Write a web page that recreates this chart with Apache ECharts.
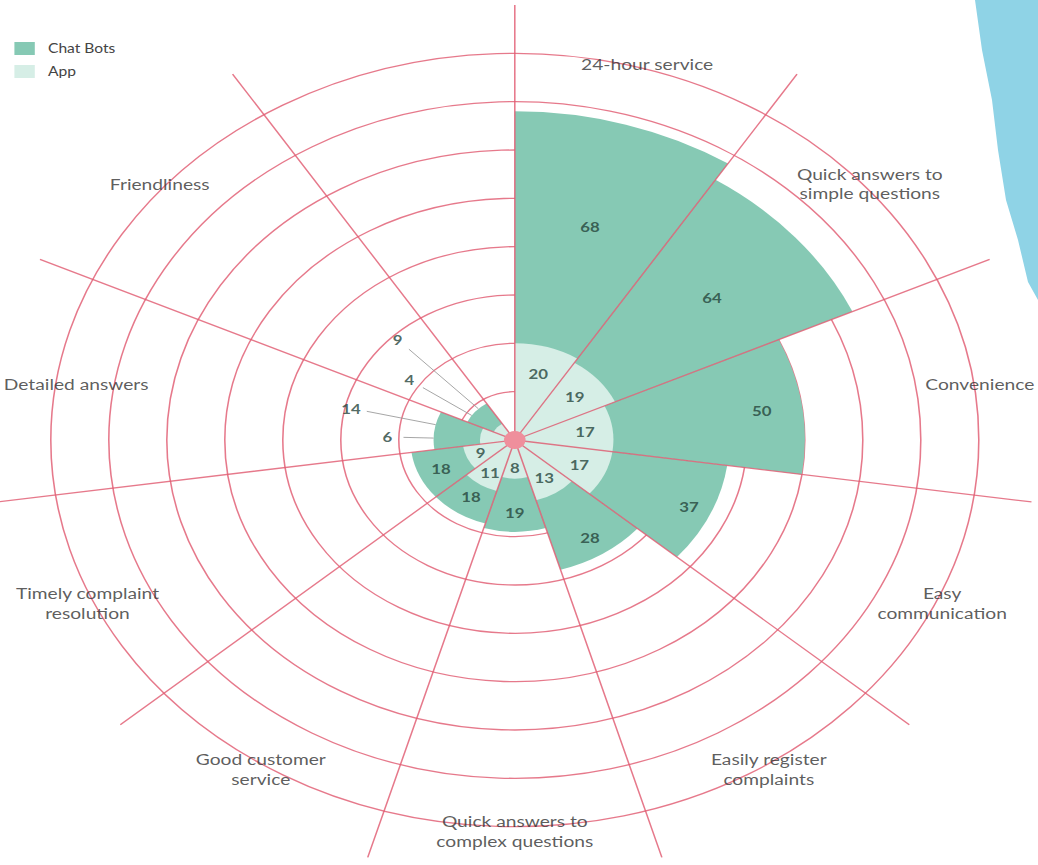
<!DOCTYPE html>
<html>
<head>
<meta charset="utf-8">
<title>Chat Bots vs App</title>
<script src="https://cdn.jsdelivr.net/npm/echarts@6/dist/echarts.min.js"></script>
<style>
	html, body { margin: 0; padding: 0; background: #fff; overflow: hidden; }
	#wrap { width: 1038px; height: 865px; overflow: hidden; position: relative; }
	/* the printed chart is a bit wider than tall, so stretch the polar horizontally */
	#chart { width: 865px; height: 865px; transform: scaleX(1.2); transform-origin: 0 0; }
</style>
</head>
<body>
<div id="wrap"><div id="chart"></div></div>
<script>
// data (11 slices, the last one is empty)
var categories = ['24-hour service', 'Quick answers to\nsimple questions', 'Convenience', 'Easy\ncommunication',
	'Easily register\ncomplaints', 'Quick answers to\ncomplex questions', 'Good customer\nservice',
	'Timely complaint\nresolution', 'Detailed answers', 'Friendliness', ''];
var chatBots = [68, 64, 50, 37, 28, 19, 18, 18, 14, 9, null];
var app = [20, 19, 17, 17, 13, 8, 11, 9, 6, 4, null];
var seriesNames = ['Chat Bots', 'App'];

var radiusMax = 90;
var radiusStep = 10;
var ringColor = 'rgba(224, 92, 114, 0.82)';
var teal = '#86c9b4';
var lightTeal = '#d6eee6';
var font = 'Lato, "Noto Sans", sans-serif';
var center = [429, 440];
var outerRadius = 435;

var chartJs = {
	init: function() {
		var chart = echarts.init(document.getElementById('chart'), null, { renderer: 'svg' });
		chart.setOption(this.option());
	},

	// angle in degrees (second polar) of a point inside slice i
	sliceDeg: function(i, shift) {
		return (i + 0.5 + shift) * 360 / categories.length;
	},

	// inside labels sit in the visible part of the wedge
	insideLabels: function() {
		var out = [];
		for (var i = 0; i < chatBots.length; i++) {
			if (chatBots[i] == null || chatBots[i] < 15) continue;
			var cb = chatBots[i], a = app[i];
			out.push([Math.min(cb - 4, a + 26), i, cb]);
			out.push([a * 0.72, i, a]);
		}
		return out;
	},

	// small wedges: labels outside with a leader line back to the wedge
	outsideLabels: function() {
		var out = [];
		for (var i = 0; i < chatBots.length; i++) {
			if (chatBots[i] == null || chatBots[i] >= 15) continue;
			out.push({ r: 29, deg: this.sliceDeg(i, 0.15), text: chatBots[i], lead: chatBots[i] });
			out.push({ r: 22, deg: this.sliceDeg(i, -0.2), text: app[i], lead: chatBots[i] });
		}
		return out;
	},

	categoryLabels: function() {
		var out = [];
		for (var i = 0; i < categories.length; i++) {
			if (!categories[i]) continue;
			var item = { value: [81, i] };
			// keep the far left label inside the page
			if (i === 8) item.label = { offset: [22, 0] };
			out.push(item);
		}
		return out;
	},

	labelSeries: function(name, polarIndex, data, label) {
		return {
			name: name,
			type: 'scatter',
			coordinateSystem: 'polar',
			polarIndex: polarIndex,
			data: data,
			symbolSize: 1,
			silent: true,
			itemStyle: { color: 'rgba(0,0,0,0)' },
			z: 12,
			label: label
		};
	},

	leaderSeries: function(labels) {
		return labels.map(function(l) {
			return {
				type: 'line',
				coordinateSystem: 'polar',
				polarIndex: 1,
				silent: true,
				symbol: 'none',
				z: 11,
				lineStyle: { color: '#9a9a9a', width: 0.8 },
				data: [[l.r - 2.8, l.deg], [l.lead, l.deg]]
			};
		});
	},

	option: function() {
		var ringColors = [];
		for (var k = 0; k < radiusMax / radiusStep; k++) ringColors.push(ringColor);
		ringColors.push('rgba(0,0,0,0)');

		var outside = this.outsideLabels();
		var valueLabel = {
			show: true,
			position: 'inside',
			fontSize: 14,
			fontWeight: 'bold',
			color: '#25443b',
			fontFamily: font,
			formatter: function(p) { return p.value[2]; }
		};

		// torn paper on the right edge (screen px, divided by the stretch)
		var tear = [[975, 0], [1038, 0], [1038, 300], [1028, 282], [1018, 240], [1006, 200], [998, 150], [992, 100], [982, 50]];
		tear = tear.map(function(p) { return [p[0] / 1.2, p[1]]; });

		var series = [{
				name: seriesNames[0],
				type: 'bar',
				coordinateSystem: 'polar',
				data: chatBots,
				barGap: '-100%',
				barCategoryGap: '0%',
				itemStyle: { color: teal },
				z: 2
			},
			{
				name: seriesNames[1],
				type: 'bar',
				coordinateSystem: 'polar',
				data: app,
				barGap: '-100%',
				barCategoryGap: '0%',
				itemStyle: { color: lightTeal },
				z: 3
			},
			this.labelSeries('valueLabels', 0, this.insideLabels(), valueLabel),
			this.labelSeries('outsideLabels', 1, outside.map(function(l) { return [l.r, l.deg, l.text]; }), valueLabel),
			this.labelSeries('categoryLabels', 0, this.categoryLabels(), {
				show: true,
				position: 'inside',
				fontSize: 16,
				lineHeight: 20,
				color: '#333',
				fontFamily: font,
				formatter: function(p) { return categories[p.value[1]]; }
			})
		];

		return {
			backgroundColor: '#fff',
			animation: false,
			textStyle: { fontFamily: font },
			legend: {
				data: seriesNames,
				orient: 'vertical',
				left: 7,
				top: 37,
				itemWidth: 17,
				itemHeight: 13,
				itemGap: 10,
				icon: 'rect',
				textStyle: { fontSize: 13, color: '#444', fontFamily: font, padding: [0, 0, 0, 6] }
			},
			polar: [
				{ center: center, radius: outerRadius },
				{ center: center, radius: outerRadius }
			],
			angleAxis: [{
					polarIndex: 0,
					type: 'category',
					data: categories,
					startAngle: 90,
					clockwise: true,
					boundaryGap: true,
					z: 10,
					axisLine: { show: false },
					axisTick: { show: false },
					axisLabel: { show: false },
					splitLine: { show: true, lineStyle: { color: ringColor, width: 1.3 } }
				},
				{
					// plain degrees, only used to place the outside labels
					polarIndex: 1,
					type: 'value',
					min: 0,
					max: 360,
					startAngle: 90,
					clockwise: true,
					show: false
				}
			],
			radiusAxis: [{
					polarIndex: 0,
					type: 'value',
					min: 0,
					max: radiusMax,
					interval: radiusStep,
					z: 0,
					axisLine: { show: false },
					axisTick: { show: false },
					axisLabel: { show: false },
					splitLine: { show: true, lineStyle: { color: ringColors, width: 1.3 } }
				},
				{
					polarIndex: 1,
					type: 'value',
					min: 0,
					max: radiusMax,
					show: false
				}
			],
			graphic: [
				{ type: 'polygon', z: -10, shape: { points: tear }, style: { fill: '#8fd3e6' } },
				{ type: 'circle', z: 20, shape: { cx: center[0], cy: center[1], r: 9 }, style: { fill: '#ef8f9c' } }
			],
			series: series.concat(this.leaderSeries(outside))
		};
	}
};

chartJs.init();
</script>
</body>
</html>
